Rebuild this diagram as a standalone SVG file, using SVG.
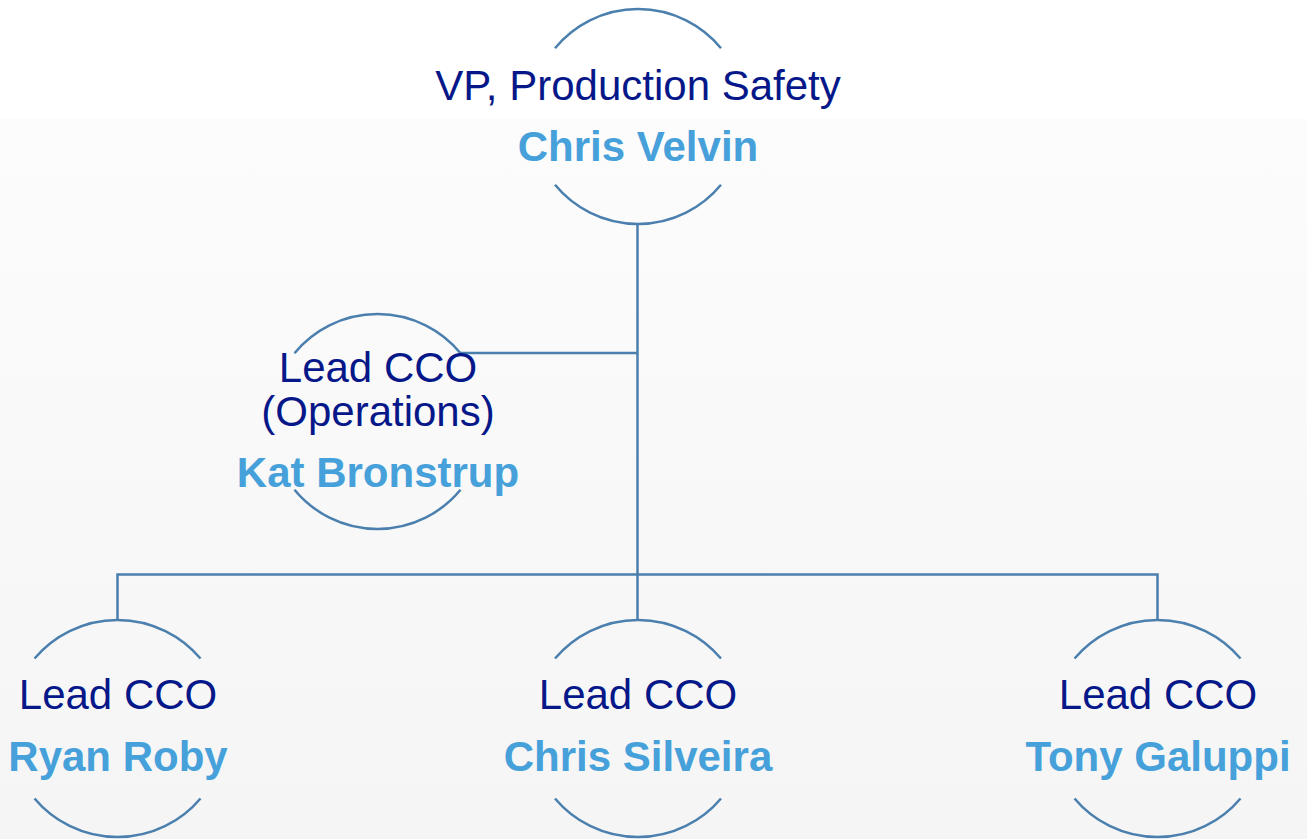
<svg xmlns="http://www.w3.org/2000/svg" width="1307" height="839" viewBox="0 0 1307 839">
<defs>
<linearGradient id="bg" x1="0" y1="0" x2="0" y2="1">
<stop offset="0" stop-color="#fcfcfc"/>
<stop offset="1" stop-color="#f5f5f5"/>
</linearGradient>
</defs>
<style>
.arc{fill:none;stroke:#4a7fae;stroke-width:2.5}
.con{fill:none;stroke:#4a7fae;stroke-width:2.5}
.t{font-family:"Liberation Sans",Arial,sans-serif;font-size:42px;fill:#061889;text-anchor:middle}
.n{font-family:"Liberation Sans",Arial,sans-serif;font-size:42px;font-weight:bold;fill:#46a0da;text-anchor:middle}
</style>
<rect x="0" y="0" width="1307" height="839" fill="#ffffff"/>
<rect x="0" y="119" width="1307" height="720" fill="url(#bg)"/>
<g id="connectors">
<path class="con" d="M637.5 224 V574.5"/>
<path class="con" d="M460 353 H637.5"/>
<path class="con" d="M117.5 620 V574.5 H1157.5 V620"/>
<path class="con" d="M637.5 574.5 V620"/>
</g>
<g id="vp">
<path class="arc" d="M555 48.2 A107.5 107.5 0 0 1 721 48.2"/>
<path class="arc" d="M555 184.8 A107.5 107.5 0 0 0 721 184.8"/>
<text class="t" x="638" y="100">VP, Production Safety</text>
<text class="n" x="638" y="161">Chris Velvin</text>
</g>
<g id="kat">
<path class="arc" d="M294.5 353.2 A107.5 107.5 0 0 1 460.5 353.2"/>
<path class="arc" d="M294.5 489.8 A107.5 107.5 0 0 0 460.5 489.8"/>
<text class="t" x="378" y="382">Lead CCO</text>
<text class="t" x="378" y="426">(Operations)</text>
<text class="n" x="378" y="487">Kat Bronstrup</text>
</g>
<g id="ryan">
<path class="arc" d="M34.5 658.5 A108.5 108.5 0 0 1 200.5 658.5"/>
<path class="arc" d="M34.5 798.5 A108.5 108.5 0 0 0 200.5 798.5"/>
<text class="t" x="118" y="709">Lead CCO</text>
<text class="n" x="118" y="771">Ryan Roby</text>
</g>
<g id="silveira">
<path class="arc" d="M555 658.5 A108.5 108.5 0 0 1 721 658.5"/>
<path class="arc" d="M555 798.5 A108.5 108.5 0 0 0 721 798.5"/>
<text class="t" x="638" y="709">Lead CCO</text>
<text class="n" x="638" y="771">Chris Silveira</text>
</g>
<g id="tony">
<path class="arc" d="M1074.5 658.5 A108.5 108.5 0 0 1 1240.5 658.5"/>
<path class="arc" d="M1074.5 798.5 A108.5 108.5 0 0 0 1240.5 798.5"/>
<text class="t" x="1158" y="709">Lead CCO</text>
<text class="n" x="1158" y="771">Tony Galuppi</text>
</g>
</svg>
